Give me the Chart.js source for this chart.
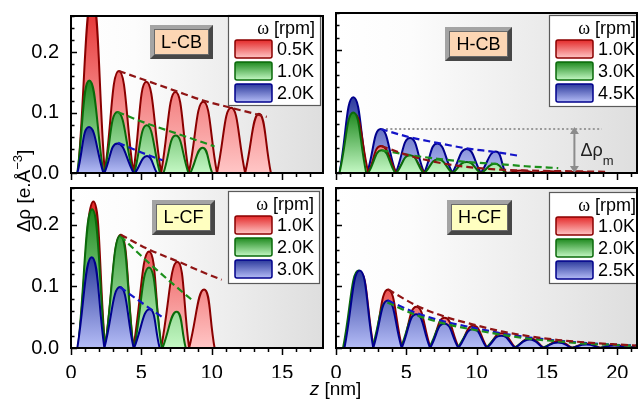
<!DOCTYPE html>
<html>
<head>
<meta charset="utf-8">
<script src="https://cdn.jsdelivr.net/npm/chart.js@4.4.1/dist/chart.umd.min.js"></script>
<style>
  html, body { margin: 0; padding: 0; background: #ffffff; }
  #fig { position: relative; width: 638px; height: 401px; overflow: hidden; background: #fff; }
  #fig canvas { position: absolute; left: 0; top: 0; }
</style>
</head>
<body>
<div id="fig">
  <canvas id="lcb" width="638" height="401"></canvas>
  <canvas id="hcb" width="638" height="401"></canvas>
  <canvas id="lcf" width="638" height="401"></canvas>
  <canvas id="hcf" width="638" height="401"></canvas>
</div>
<script>
// ---------------- axis values ----------------
const xTickValues = [0, 5, 10, 15, 20];
const yTickValues = [0, 0.1, 0.2];
const yMaxValue = 0.26;
const xMaxLeft = 17.9;
const xMaxRight = 21.4;
const xTitle = ['z', ' [nm]'];
const yTitle = ['\u0394\u03c1 [e.\u00c5', '\u22123', ']'];
const legendTitle = ['\u03c9', ' [rpm]'];

// ---------------- L-CB ----------------
const lcbTag = 'L-CB';
const lcbNames = ['0.5K', '1.0K', '2.0K'];
const lcbRedStart = [0.5, 2.4, 4.43, 6.4, 8.37, 10.37, 12.37];
const lcbRedEnd   = [2.4, 4.43, 6.4, 8.37, 10.37, 12.37, 14.2];
const lcbRedZ     = [1.5, 3.4, 5.35, 7.42, 9.4, 11.38, 13.35];
const lcbRedV     = [0.29, 0.169, 0.151, 0.134, 0.118, 0.108, 0.098];
const lcbGreenStart = [0.45, 2.37, 4.5, 6.57, 8.48];
const lcbGreenEnd   = [2.3, 4.4, 6.32, 8.34, 10.03];
const lcbGreenZ     = [1.3, 3.3, 5.38, 7.44, 9.35];
const lcbGreenV     = [0.153, 0.101, 0.079, 0.062, 0.042];
const lcbBlueStart = [0.45, 2.37, 4.55];
const lcbBlueEnd   = [2.3, 4.45, 6.1];
const lcbBlueZ     = [1.28, 3.3, 5.4];
const lcbBlueV     = [0.076, 0.049, 0.028];
const lcbRedEnvZ   = [3.4, 5.35, 7.42, 9.4, 11.38, 13.9];
const lcbRedEnvV   = [0.169, 0.153, 0.136, 0.12, 0.108, 0.093];
const lcbGreenEnvZ = [3.3, 5.38, 7.44, 10.2];
const lcbGreenEnvV = [0.101, 0.082, 0.066, 0.044];
const lcbBlueEnvZ  = [3.35, 5.0, 6.5];
const lcbBlueEnvV  = [0.05, 0.034, 0.021];

// ---------------- H-CB ----------------
const hcbTag = 'H-CB';
const hcbNames = ['1.0K', '3.0K', '4.5K'];
const hcbRedStart = [0.3, 2.3, 4.3, 6.3, 8.3, 10.3, 12.2, 14.2, 16.2];
const hcbRedEnd   = [2.3, 4.3, 6.3, 8.3, 10.3, 12.2, 14.2, 16.2, 18.2];
const hcbRedZ     = [1.3, 3.2, 5.25, 7.25, 9.3, 11.25, 13.2, 15.2, 17.2];
const hcbRedV     = [0.096, 0.044, 0.027, 0.017, 0.010, 0.007, 0.004, 0.003, 0.002];
const hcbGreenStart = [0.25, 2.3, 4.3, 6.3, 8.3, 10.35];
const hcbGreenEnd   = [2.15, 4.2, 6.2, 8.25, 10.25, 12.05];
const hcbGreenZ     = [1.23, 3.25, 5.26, 7.25, 9.3, 11.3];
const hcbGreenV     = [0.0985, 0.037, 0.029, 0.022, 0.018, 0.015];
const hcbBlueStart = [0.25, 2.22, 4.25, 6.27, 8.27, 10.3];
const hcbBlueEnd   = [2.22, 4.25, 6.27, 8.27, 10.3, 12.05];
const hcbBlueZ     = [1.23, 3.18, 5.26, 7.2, 9.29, 11.35];
const hcbBlueV     = [0.123, 0.0715, 0.057, 0.048, 0.039, 0.035];
const hcbRedEnvZ   = [3.2, 5.25, 7.25, 9.3, 11.3, 13.5, 16, 19.2];
const hcbRedEnvV   = [0.044, 0.028, 0.017, 0.010, 0.006, 0.004, 0.003, 0.002];
const hcbGreenEnvZ = [3.25, 5.26, 7.25, 9.3, 11.3, 13.5, 15.8];
const hcbGreenEnvV = [0.037, 0.029, 0.023, 0.018, 0.015, 0.011, 0.008];
const hcbBlueEnvZ  = [3.18, 5.26, 7.2, 9.29, 11.35, 13.0];
const hcbBlueEnvV  = [0.0715, 0.058, 0.049, 0.040, 0.034, 0.028];
const hcbRefZ      = [3.24, 18.9];
const hcbRefV      = [0.0715, 0.0715];
const hcbArrowZ    = 16.95;
const hcbArrowText = ['\u0394\u03c1', 'm'];

// ---------------- L-CF ----------------
const lcfTag = 'L-CF';
const lcfNames = ['1.0K', '2.0K', '3.0K'];
const lcfRedStart = [0.52, 2.42, 4.43, 6.4, 8.39];
const lcfRedEnd   = [2.42, 4.43, 6.4, 8.39, 10.2];
const lcfRedZ     = [1.59, 3.53, 5.54, 7.55, 9.45];
const lcfRedV     = [0.238, 0.184, 0.157, 0.140, 0.095];
const lcfGreenStart = [0.5, 2.42, 4.5, 6.5];
const lcfGreenEnd   = [2.42, 4.43, 6.45, 8.15];
const lcfGreenZ     = [1.5, 3.5, 5.54, 7.5];
const lcfGreenV     = [0.2255, 0.183, 0.131, 0.059];
const lcfBlueStart = [0.45, 2.37, 4.48];
const lcfBlueEnd   = [2.37, 4.45, 6.3];
const lcfBlueZ     = [1.47, 3.48, 5.58];
const lcfBlueV     = [0.1475, 0.099, 0.063];
const lcfRedEnvZ   = [3.53, 5.54, 7.55, 9.5, 10.7];
const lcfRedEnvV   = [0.184, 0.160, 0.141, 0.122, 0.111];
const lcfGreenEnvZ = [3.5, 5.5, 7.5, 8.65];
const lcfGreenEnvV = [0.182, 0.139, 0.099, 0.077];
const lcfBlueEnvZ  = [3.48, 5.0, 6.5];
const lcfBlueEnvV  = [0.099, 0.074, 0.050];

// ---------------- H-CF ----------------
const hcfTag = 'H-CF';
const hcfNames = ['1.0K', '2.0K', '2.5K'];
const hcfRedStart = [0.62, 2.68, 4.7, 6.72, 8.73, 10.75, 12.76, 14.78, 16.8, 18.8, 20.82];
const hcfRedEnd   = [2.68, 4.7, 6.72, 8.73, 10.75, 12.76, 14.78, 16.8, 18.8, 20.82, 22.8];
const hcfRedZ     = [1.7, 3.7, 5.72, 7.72, 9.77, 11.77, 13.79, 15.8, 17.82, 19.82, 21.82];
const hcfRedV     = [0.124, 0.095, 0.067, 0.049, 0.036, 0.024, 0.016, 0.011, 0.007, 0.005, 0.004];
const hcfGreenStart = [0.5, 2.57, 4.59, 6.61, 8.62, 10.64, 12.65, 14.67, 16.7, 18.7, 20.72];
const hcfGreenEnd   = [2.57, 4.59, 6.61, 8.62, 10.64, 12.65, 14.67, 16.7, 18.7, 20.72, 22.7];
const hcfGreenZ     = [1.6, 3.62, 5.64, 7.64, 9.69, 11.69, 13.71, 15.72, 17.74, 19.74, 21.74];
const hcfGreenV     = [0.126, 0.075, 0.053, 0.039, 0.029, 0.019, 0.013, 0.0085, 0.005, 0.0035, 0.0025];
const hcfBlueStart = [0.6, 2.65, 4.67, 6.69, 8.7, 10.72, 12.73, 14.75, 16.78, 18.78, 20.8];
const hcfBlueEnd   = [2.65, 4.67, 6.69, 8.7, 10.72, 12.73, 14.75, 16.78, 18.78, 20.8, 22.8];
const hcfBlueZ     = [1.68, 3.68, 5.7, 7.7, 9.75, 11.75, 13.77, 15.78, 17.8, 19.8, 21.8];
const hcfBlueV     = [0.126, 0.077, 0.055, 0.040, 0.031, 0.020, 0.014, 0.009, 0.0055, 0.004, 0.003];
const hcfRedEnvZ   = [3.7, 5.72, 7.72, 9.77, 11.77, 13.79, 15.8, 17.82, 19.82, 21.4];
const hcfRedEnvV   = [0.095, 0.069, 0.051, 0.038, 0.027, 0.019, 0.013, 0.009, 0.006, 0.004];
const hcfGreenEnvZ = [3.65, 5.64, 7.64, 9.69, 11.69, 13.71, 15.72, 17.74, 19.74, 21.4];
const hcfGreenEnvV = [0.074, 0.054, 0.040, 0.030, 0.022, 0.015, 0.011, 0.007, 0.005, 0.003];
const hcfBlueEnvZ  = [3.68, 5.7, 7.7, 9.75, 11.75, 13.77, 15.78, 17.8, 19.8, 21.4];
const hcfBlueEnvV  = [0.077, 0.057, 0.043, 0.033, 0.024, 0.017, 0.012, 0.008, 0.005, 0.004];

// ---------------- styling ----------------
const FONT = "'Liberation Sans', Arial, Helvetica, sans-serif";
const SERIF = "'Liberation Serif', 'Times New Roman', serif";
Chart.defaults.font.family = FONT;
const W = 638, H = 401, YW = 40, XH = 30;
const PAL = {
  red:   { line: '#8a0000', top: '#e42a2a', bottom: '#ffc6c6', dash: '#8f1414' },
  green: { line: '#0a6a0a', top: '#1f8a1f', bottom: '#c4f8c4', dash: '#1b8f1b' },
  blue:  { line: '#00008c', top: '#2c3a9c', bottom: '#b4bcf6', dash: '#1414c8' }
};
const PEACH = '#fcd6b4', YELLOW = '#ffffc0';

function humpPoints(start, end, z, v) {
  const pts = [];
  for (let i = 0; i < v.length; i++) {
    pts.push({ x: start[i], y: 0 }, { x: z[i], y: v[i] }, { x: end[i], y: 0 }, { x: end[i], y: null });
  }
  return pts;
}
function pairs(z, v) { return z.map((x, i) => ({ x: x, y: v[i] })); }
function fillGradient(col, peak) {
  return (c) => {
    const ch = c.chart;
    if (!ch.chartArea || !ch.scales.y) return col.bottom;
    const ys = ch.scales.y;
    const g = ch.ctx.createLinearGradient(0, ys.getPixelForValue(peak), 0, ys.getPixelForValue(0));
    g.addColorStop(0, col.top);
    g.addColorStop(1, col.bottom);
    return g;
  };
}

const specs = {
  lcb: {
    area: { l: 71, t: 13, r: 323, b: 173 }, xMax: xMaxLeft, xLabels: false, yLabels: true,
    series: [['red', lcbNames[0], lcbRedStart, lcbRedEnd, lcbRedZ, lcbRedV, 3],
             ['green', lcbNames[1], lcbGreenStart, lcbGreenEnd, lcbGreenZ, lcbGreenV, 2],
             ['blue', lcbNames[2], lcbBlueStart, lcbBlueEnd, lcbBlueZ, lcbBlueV, 1]],
    env: [['red', lcbRedEnvZ, lcbRedEnvV], ['green', lcbGreenEnvZ, lcbGreenEnvV], ['blue', lcbBlueEnvZ, lcbBlueEnvV]],
    tag: { x: 150, y: 25, w: 63, h: 34, text: lcbTag, fill: PEACH },
    legend: { x: 228, y: 15, w: 93, h: 91, names: lcbNames }
  },
  hcb: {
    area: { l: 336, t: 13, r: 637, b: 173 }, xMax: xMaxRight, xLabels: false, yLabels: false,
    series: [['red', hcbNames[0], hcbRedStart, hcbRedEnd, hcbRedZ, hcbRedV, 2],
             ['green', hcbNames[1], hcbGreenStart, hcbGreenEnd, hcbGreenZ, hcbGreenV, 1],
             ['blue', hcbNames[2], hcbBlueStart, hcbBlueEnd, hcbBlueZ, hcbBlueV, 3]],
    env: [['red', hcbRedEnvZ, hcbRedEnvV], ['green', hcbGreenEnvZ, hcbGreenEnvV], ['blue', hcbBlueEnvZ, hcbBlueEnvV]],
    ref: true,
    tag: { x: 445, y: 27, w: 67, h: 34, text: hcbTag, fill: PEACH },
    legend: { x: 549, y: 15, w: 93, h: 92, names: hcbNames }
  },
  lcf: {
    area: { l: 71, t: 188, r: 323, b: 348 }, xMax: xMaxLeft, xLabels: true, yLabels: true,
    series: [['red', lcfNames[0], lcfRedStart, lcfRedEnd, lcfRedZ, lcfRedV, 3],
             ['green', lcfNames[1], lcfGreenStart, lcfGreenEnd, lcfGreenZ, lcfGreenV, 2],
             ['blue', lcfNames[2], lcfBlueStart, lcfBlueEnd, lcfBlueZ, lcfBlueV, 1]],
    env: [['red', lcfRedEnvZ, lcfRedEnvV], ['green', lcfGreenEnvZ, lcfGreenEnvV], ['blue', lcfBlueEnvZ, lcfBlueEnvV]],
    titles: true,
    tag: { x: 152, y: 200, w: 63, h: 35, text: lcfTag, fill: YELLOW },
    legend: { x: 228, y: 191, w: 92, h: 93, names: lcfNames }
  },
  hcf: {
    area: { l: 336, t: 188, r: 637, b: 348 }, xMax: xMaxRight, xLabels: true, yLabels: false,
    series: [['red', hcfNames[0], hcfRedStart, hcfRedEnd, hcfRedZ, hcfRedV, 3],
             ['green', hcfNames[1], hcfGreenStart, hcfGreenEnd, hcfGreenZ, hcfGreenV, 2],
             ['blue', hcfNames[2], hcfBlueStart, hcfBlueEnd, hcfBlueZ, hcfBlueV, 1]],
    env: [['red', hcfRedEnvZ, hcfRedEnvV], ['green', hcfGreenEnvZ, hcfGreenEnvV], ['blue', hcfBlueEnvZ, hcfBlueEnvV]],
    tag: { x: 447, y: 200, w: 65, h: 35, text: hcfTag, fill: YELLOW },
    legend: { x: 549, y: 192, w: 93, h: 92, names: hcfNames }
  }
};

function drawTag(ctx, t) {
  const b = 4;
  ctx.save();
  ctx.fillStyle = '#a4a4a4';
  ctx.fillRect(t.x, t.y, t.w, t.h);
  ctx.fillStyle = '#474747';
  ctx.beginPath();
  ctx.moveTo(t.x + t.w, t.y); ctx.lineTo(t.x + t.w, t.y + t.h); ctx.lineTo(t.x, t.y + t.h);
  ctx.lineTo(t.x + b, t.y + t.h - b); ctx.lineTo(t.x + t.w - b, t.y + t.h - b); ctx.lineTo(t.x + t.w - b, t.y + b);
  ctx.closePath(); ctx.fill();
  ctx.fillStyle = t.fill;
  ctx.fillRect(t.x + b, t.y + b, t.w - 2 * b, t.h - 2 * b);
  ctx.strokeStyle = '#6a6a6a'; ctx.lineWidth = 1;
  ctx.strokeRect(t.x + b + 0.5, t.y + b + 0.5, t.w - 2 * b - 1, t.h - 2 * b - 1);
  ctx.fillStyle = '#000';
  ctx.font = '18px ' + FONT;
  ctx.textAlign = 'center'; ctx.textBaseline = 'middle';
  ctx.fillText(t.text, t.x + t.w / 2, t.y + t.h / 2 + 1);
  ctx.restore();
}

function drawLegend(ctx, L) {
  const cols = [PAL.red, PAL.green, PAL.blue];
  ctx.save();
  ctx.fillStyle = '#ffffff';
  ctx.fillRect(L.x, L.y, L.w, L.h);
  ctx.strokeStyle = '#5a5a5a'; ctx.lineWidth = 1.2;
  ctx.strokeRect(L.x + 0.5, L.y + 0.5, L.w - 1, L.h - 1);
  ctx.fillStyle = '#000'; ctx.textBaseline = 'middle'; ctx.textAlign = 'right';
  ctx.font = '18px ' + FONT;
  const tx = L.x + L.w - 6, ty = L.y + 14;
  ctx.fillText(legendTitle[1], tx, ty);
  const rw = ctx.measureText(legendTitle[1]).width;
  ctx.font = '18px ' + SERIF;
  ctx.fillText(legendTitle[0], tx - rw, ty);
  L.names.forEach((n, i) => {
    const sx = L.x + 7, sy = L.y + 25 + i * 22, sw = 37, sh = 18;
    const g = ctx.createLinearGradient(0, sy, 0, sy + sh);
    g.addColorStop(0, cols[i].top); g.addColorStop(1, cols[i].bottom);
    ctx.fillStyle = g;
    ctx.beginPath();
    ctx.roundRect(sx, sy, sw, sh, 2);
    ctx.fill();
    ctx.strokeStyle = cols[i].line; ctx.lineWidth = 1.5;
    ctx.stroke();
    ctx.fillStyle = '#000'; ctx.textAlign = 'left'; ctx.font = '18px ' + FONT;
    ctx.fillText(n, L.x + 49, sy + sh / 2 + 1);
  });
  ctx.restore();
}

function drawArrow(chart) {
  const ctx = chart.ctx, xs = chart.scales.x, ys = chart.scales.y;
  const px = xs.getPixelForValue(hcbArrowZ);
  const yTop = ys.getPixelForValue(hcbRefV[0]) - 2, yBot = ys.getPixelForValue(0);
  ctx.save();
  ctx.strokeStyle = '#8c8c8c'; ctx.fillStyle = '#8c8c8c'; ctx.lineWidth = 2;
  ctx.beginPath(); ctx.moveTo(px, yTop + 6); ctx.lineTo(px, yBot - 6); ctx.stroke();
  ctx.beginPath(); ctx.moveTo(px, yTop); ctx.lineTo(px - 4.5, yTop + 7); ctx.lineTo(px + 4.5, yTop + 7); ctx.closePath(); ctx.fill();
  ctx.beginPath(); ctx.moveTo(px, yBot); ctx.lineTo(px - 4.5, yBot - 7); ctx.lineTo(px + 4.5, yBot - 7); ctx.closePath(); ctx.fill();
  ctx.fillStyle = '#222'; ctx.textAlign = 'left'; ctx.textBaseline = 'middle';
  ctx.font = '18px ' + FONT;
  ctx.fillText(hcbArrowText[0], px + 6, 151);
  const w = ctx.measureText(hcbArrowText[0]).width;
  ctx.font = '13px ' + FONT;
  ctx.fillText(hcbArrowText[1], px + 6 + w, 161);
  ctx.restore();
}

function drawTitles(ctx) {
  ctx.save();
  ctx.fillStyle = '#000'; ctx.textBaseline = 'middle'; ctx.textAlign = 'left';
  // x title
  ctx.font = 'italic 19px ' + FONT;
  const w0 = ctx.measureText(xTitle[0]).width;
  ctx.font = '19px ' + FONT;
  const w1 = ctx.measureText(xTitle[1]).width;
  let x = 335.5 - (w0 + w1) / 2;
  ctx.font = 'italic 19px ' + FONT; ctx.fillText(xTitle[0], x, 390);
  ctx.font = '19px ' + FONT; ctx.fillText(xTitle[1], x + w0, 390);
  // y title
  ctx.translate(25, 191);
  ctx.rotate(-Math.PI / 2);
  ctx.font = '19px ' + FONT;
  const a = ctx.measureText(yTitle[0]).width;
  const c = ctx.measureText(yTitle[2]).width;
  ctx.font = '13px ' + FONT;
  const b = ctx.measureText(yTitle[1]).width;
  let sx = -(a + b + c) / 2;
  ctx.font = '19px ' + FONT; ctx.fillText(yTitle[0], sx, 0);
  ctx.font = '13px ' + FONT; ctx.fillText(yTitle[1], sx + a, -7);
  ctx.font = '19px ' + FONT; ctx.fillText(yTitle[2], sx + a + b, 0);
  ctx.restore();
}

function drawFrameAndTicks(chart, s) {
  const ctx = chart.ctx, a = chart.chartArea, xs = chart.scales.x, ys = chart.scales.y;
  ctx.save();
  ctx.strokeStyle = '#000'; ctx.lineWidth = 1.5;
  ctx.beginPath();
  for (let k = 0; k <= Math.floor(s.xMax); k++) {
    const px = Math.round(xs.getPixelForValue(k)) + 0.5;
    const len = (k % 5 === 0) ? 7 : 4;
    ctx.moveTo(px, a.bottom); ctx.lineTo(px, a.bottom + len);
  }
  for (let k = 0; k * 0.02 <= yMaxValue + 1e-9; k++) {
    const py = Math.round(ys.getPixelForValue(k * 0.02)) + 0.5;
    const len = (k % 5 === 0) ? 6 : 3.5;
    ctx.moveTo(a.left, py); ctx.lineTo(a.left + len, py);
  }
  ctx.stroke();
  ctx.lineWidth = 2;
  ctx.strokeRect(a.left, a.top, a.right - a.left, a.bottom - a.top);
  ctx.restore();
}

const decoPlugin = {
  id: 'panelDeco',
  beforeDraw(chart) {
    const a = chart.chartArea, ctx = chart.ctx;
    const g = ctx.createLinearGradient(a.left, 0, a.right, 0);
    g.addColorStop(0, '#ffffff'); g.addColorStop(0.25, '#fcfcfc'); g.addColorStop(1, '#dedede');
    ctx.save(); ctx.fillStyle = g;
    ctx.fillRect(a.left, a.top, a.right - a.left, a.bottom - a.top);
    ctx.restore();
  },
  afterDraw(chart) {
    const s = specs[chart.canvas.id];
    const ctx = chart.ctx;
    if (s.ref) drawArrow(chart);
    drawTag(ctx, s.tag);
    drawLegend(ctx, s.legend);
    drawFrameAndTicks(chart, s);
    if (s.titles) drawTitles(ctx);
  }
};

function makeChart(id) {
  const s = specs[id];
  const a = s.area;
  const datasets = [];
  s.series.forEach(([ck, name, st, en, z, v, order]) => {
    const col = PAL[ck];
    datasets.push({
      label: name, data: humpPoints(st, en, z, v),
      borderColor: col.line, borderWidth: 2,
      backgroundColor: fillGradient(col, Math.max(...v)),
      fill: 'origin', tension: 0.5, spanGaps: false, pointRadius: 0, order: order
    });
  });
  s.env.forEach(([ck, z, v]) => {
    datasets.push({
      label: ck + ' envelope', data: pairs(z, v),
      borderColor: PAL[ck].dash, borderWidth: 2.2, borderDash: [7, 4],
      fill: false, cubicInterpolationMode: 'monotone', pointRadius: 0, order: 0
    });
  });
  if (s.ref) {
    datasets.push({
      label: 'reference', data: pairs(hcbRefZ, hcbRefV),
      borderColor: '#9a9a9a', borderWidth: 2, borderDash: [2, 2.4],
      fill: false, pointRadius: 0, order: 0
    });
  }
  return new Chart(document.getElementById(id), {
    type: 'line',
    data: { datasets: datasets },
    options: {
      responsive: false, animation: false, events: [],
      layout: { padding: { left: a.l - YW, top: a.t, right: W - a.r, bottom: H - a.b - XH } },
      scales: {
        x: {
          type: 'linear', min: 0, max: s.xMax,
          grid: { display: false }, border: { display: false },
          afterBuildTicks: (sc) => { sc.ticks = xTickValues.filter(t => t <= s.xMax).map(t => ({ value: t })); },
          afterFit: (sc) => { sc.height = XH; },
          ticks: { display: s.xLabels, autoSkip: false, maxRotation: 0, padding: 5, color: '#000',
                   font: { size: 20, family: FONT }, callback: (v) => String(v) }
        },
        y: {
          type: 'linear', min: 0, max: yMaxValue,
          grid: { display: false }, border: { display: false },
          afterBuildTicks: (sc) => { sc.ticks = yTickValues.map(t => ({ value: t })); },
          afterFit: (sc) => { sc.width = YW; },
          ticks: { display: s.yLabels, autoSkip: false, padding: 4, color: '#000',
                   font: { size: 20, family: FONT }, callback: (v) => Number(v).toFixed(1) }
        }
      },
      plugins: { legend: { display: false }, tooltip: { enabled: false } },
      elements: { point: { radius: 0 } }
    },
    plugins: [decoPlugin]
  });
}

['lcb', 'hcb', 'lcf', 'hcf'].forEach(makeChart);
</script>
</body>
</html>
